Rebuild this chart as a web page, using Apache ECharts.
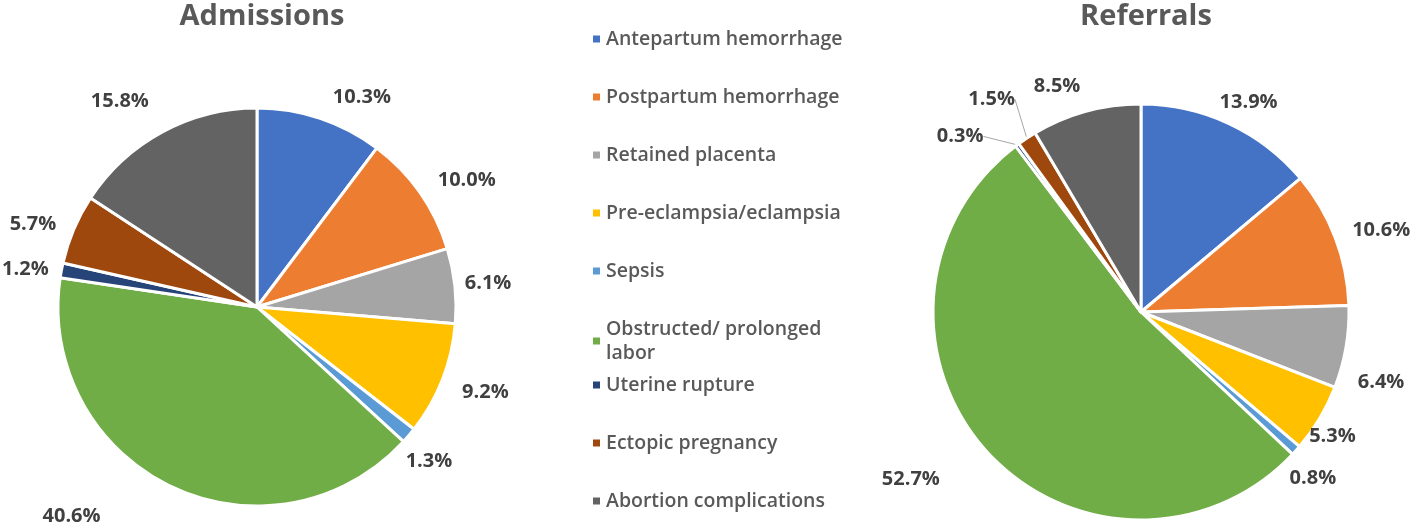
<!DOCTYPE html>
<html>
<head>
<meta charset="utf-8">
<script src="https://cdn.jsdelivr.net/npm/echarts@6/dist/echarts.min.js"></script>
<style>
html,body{margin:0;padding:0;background:#fff;}
#chart{width:1418px;height:528px;}
</style>
</head>
<body>
<div id="chart"></div>
<script>
const categories = [
  'Antepartum hemorrhage',
  'Postpartum hemorrhage',
  'Retained placenta',
  'Pre-eclampsia/eclampsia',
  'Sepsis',
  'Obstructed/ prolonged\nlabor',
  'Uterine rupture',
  'Ectopic pregnancy',
  'Abortion complications'
];
const admissions = [10.3, 10.0, 6.1, 9.2, 1.3, 40.6, 1.2, 5.7, 15.8];
const referrals = [13.9, 10.6, 6.4, 5.3, 0.8, 52.7, 0.3, 1.5, 8.5];
const titles = ['Admissions', 'Referrals'];
const colors = ['#4472C4', '#ED7D31', '#A5A5A5', '#FFC000', '#5B9BD5', '#70AD47', '#264478', '#9E480E', '#636363'];

// label nudges (dx, dy) relative to library's default outside placement
const labelNudge = [
  [[2, -4], [-2, -2], [-13, -1], [-2, 6], [-22, 14], [-58, 13], [10, 2], [4, 2], [0, -15]],
  [[-22, -5], [-5, -1], [-11, 32], [-31, 9], [-25, 16], [-28, 16], [-18, 6], [3, -24], [4, -8]]
];

const chart = echarts.init(document.getElementById('chart'));
const labelFont = { fontFamily: 'Open Sans', fontWeight: 'bold', fontSize: 20, color: '#404040' };

function makeData(vals, lineIdx) {
  return vals.map((v, i) => ({
    name: categories[i],
    value: v,
    labelLine: { show: lineIdx.indexOf(i) >= 0 }
  }));
}

function nudgeLayout(si) {
  return function (p) {
    const n = labelNudge[si][p.dataIndex];
    return {
      x: p.labelRect.x + n[0],
      y: p.labelRect.y + n[1],
      align: 'left',
      verticalAlign: 'top'
    };
  };
}

const legendCommon = {
  orient: 'vertical',
  left: 586,
  itemWidth: 9,
  itemHeight: 9,
  icon: 'rect',
  itemGap: 34,
  textStyle: { fontFamily: 'Open Sans', fontWeight: 600, fontSize: 19.5, color: '#595959', lineHeight: 24 }
};

chart.setOption({
  animation: false,
  color: colors,
  title: [
    { text: titles[0], left: 257, top: -3, textAlign: 'center',
      textStyle: { fontFamily: 'Open Sans', fontWeight: 'bold', fontSize: 29, color: '#595959' } },
    { text: titles[1], left: 1141, top: -3, textAlign: 'center',
      textStyle: { fontFamily: 'Open Sans', fontWeight: 'bold', fontSize: 29, color: '#595959' } }
  ],
  legend: [
    Object.assign({ top: 22, data: categories.slice(0, 6) }, legendCommon),
    Object.assign({ top: 368, data: categories.slice(6) }, legendCommon)
  ],
  series: [
    {
      type: 'pie',
      center: [257, 307],
      radius: [0, 199],
      startAngle: 90,
      clockwise: true,
      avoidLabelOverlap: false,
      itemStyle: { borderColor: '#fff', borderWidth: 3 },
      label: Object.assign({ position: 'outside', formatter: p => p.value.toFixed(1) + '%' }, labelFont),
      labelLine: { length: 18, length2: 0, lineStyle: { color: '#A6A6A6' } },
      labelLayout: nudgeLayout(0),
      data: makeData(admissions, [])
    },
    {
      type: 'pie',
      center: [1141, 312],
      radius: [0, 208],
      startAngle: 90,
      clockwise: true,
      avoidLabelOverlap: false,
      itemStyle: { borderColor: '#fff', borderWidth: 3 },
      label: Object.assign({ position: 'outside', formatter: p => p.value.toFixed(1) + '%' }, labelFont),
      labelLine: { length: 18, length2: 0, lineStyle: { color: '#A6A6A6' } },
      labelLayout: nudgeLayout(1),
      data: makeData(referrals, [6, 7])
    }
  ]
});
</script>
</body>
</html>
